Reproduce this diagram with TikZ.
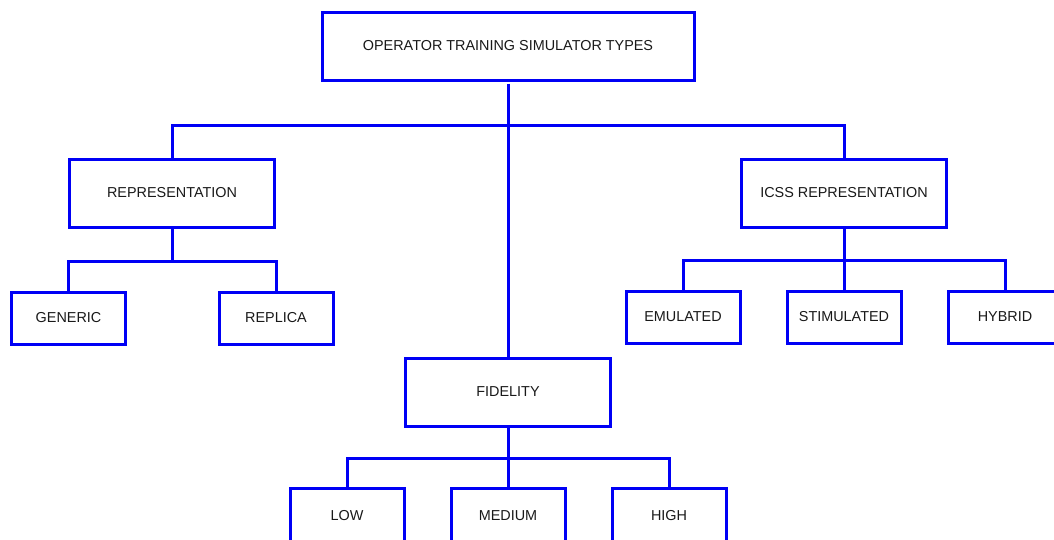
\documentclass[tikz,border=0pt]{standalone}
\usepackage{fontspec}
\setmainfont{Liberation Sans}
\definecolor{lineblue}{RGB}{0,0,245}
\begin{document}
\begin{tikzpicture}[x=1pt,y=-1pt,
  box/.style={draw=lineblue, line width=3pt, fill=white, inner sep=0pt,
    font=\fontsize{14.4}{17}\selectfont, text=black!90},
  bigbox/.style={box, minimum width=205pt, minimum height=68pt},
  smallbox/.style={box, minimum width=114pt, minimum height=52pt},
  link/.style={draw=lineblue, line width=3pt}]
  \useasboundingbox (0,0) rectangle (1054,539);
  \clip (0,0) rectangle (1054,539);

  % root and second level
  \node[box, minimum width=372pt, minimum height=68pt] (root) at (508,46) {OPERATOR TRAINING SIMULATOR TYPES};
  \node[bigbox] (rep)  at (172,193) {REPRESENTATION};
  \node[bigbox] (icss) at (844,193) {ICSS REPRESENTATION};
  \node[bigbox] (fid)  at (508,392) {FIDELITY};

  % leaves
  \node[smallbox] (gen)  at (68.5,318) {GENERIC};
  \node[smallbox] (repl) at (276,318) {REPLICA};
  \node[smallbox] (emu)  at (683,317) {EMULATED};
  \node[smallbox] (stim) at (844,317) {STIMULATED};
  \node[smallbox] (hyb)  at (1005,317) {HYBRID};
  \node[smallbox, minimum height=56pt] (low) at (347,516) {LOW};
  \node[smallbox, minimum height=56pt] (med) at (508,516) {MEDIUM};
  \node[smallbox, minimum height=56pt] (high) at (669,516) {HIGH};

  % bus levels
  \coordinate (busA) at (0,125);
  \coordinate (busR) at (0,261);
  \coordinate (busI) at (0,260);
  \coordinate (busF) at (0,458);

  % connectors
  \draw[link] (root.south) ++(0,2) -- (fid.north);
  \draw[link] (rep.north) -- (rep.north |- busA) -| (icss.north);
  \draw[link] (gen.north) -- (gen.north |- busR) -| (repl.north);
  \draw[link] (rep.south) -- (rep.south |- busR);
  \draw[link] (emu.north) -- (emu.north |- busI) -| (hyb.north);
  \draw[link] (icss.south) -- (stim.north);
  \draw[link] (low.north) -- (low.north |- busF) -| (high.north);
  \draw[link] (fid.south) -- (med.north);
\end{tikzpicture}
\end{document}
